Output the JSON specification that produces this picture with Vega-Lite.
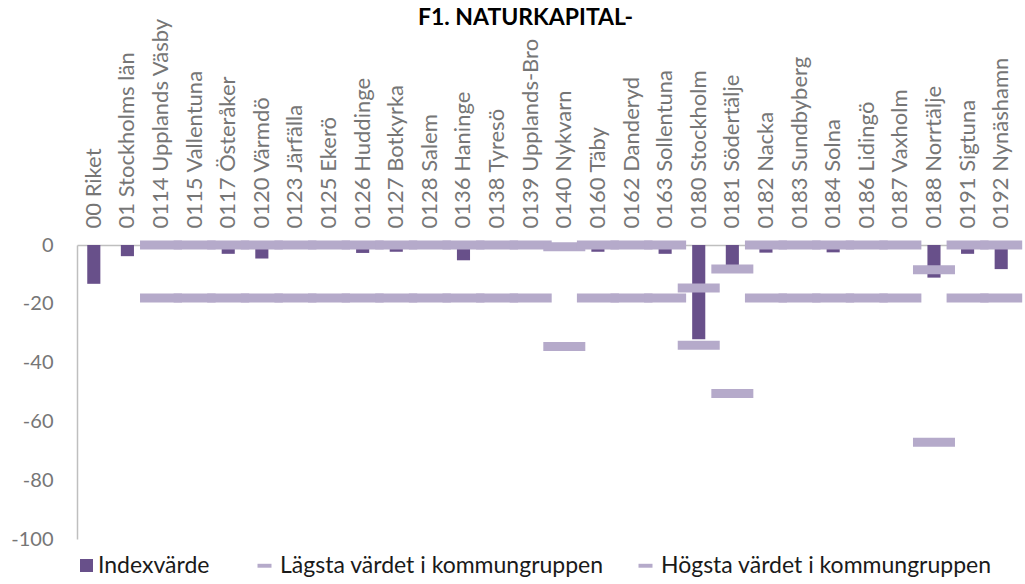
{
  "$schema": "https://vega.github.io/schema/vega-lite/v6.json",
  "width": 941,
  "height": 294,
  "autosize": {"type": "none"},
  "padding": {"left": 77, "top": 245, "right": 7, "bottom": 45},
  "background": "white",
  "title": {
    "text": "F1. NATURKAPITAL-",
    "font": "Lato",
    "fontSize": 23,
    "fontWeight": "bold",
    "color": "#000000",
    "anchor": "middle",
    "dx": -22,
    "dy": 16
  },
  "config": {"view": {"stroke": null}},
  "data": {
    "values": [
      {"kommun": "00 Riket", "serie": "Indexvärde", "value": -13.2},
      {"kommun": "01 Stockholms län", "serie": "Indexvärde", "value": -3.8},
      {"kommun": "0114 Upplands Väsby", "serie": "Indexvärde", "value": -1},
      {"kommun": "0115 Vallentuna", "serie": "Indexvärde", "value": -1},
      {"kommun": "0117 Österåker", "serie": "Indexvärde", "value": -3},
      {"kommun": "0120 Värmdö", "serie": "Indexvärde", "value": -4.6},
      {"kommun": "0123 Järfälla", "serie": "Indexvärde", "value": -1},
      {"kommun": "0125 Ekerö", "serie": "Indexvärde", "value": -1},
      {"kommun": "0126 Huddinge", "serie": "Indexvärde", "value": -2.7},
      {"kommun": "0127 Botkyrka", "serie": "Indexvärde", "value": -2.3},
      {"kommun": "0128 Salem", "serie": "Indexvärde", "value": -1},
      {"kommun": "0136 Haninge", "serie": "Indexvärde", "value": -5.2},
      {"kommun": "0138 Tyresö", "serie": "Indexvärde", "value": -1},
      {"kommun": "0139 Upplands-Bro", "serie": "Indexvärde", "value": -1},
      {"kommun": "0140 Nykvarn", "serie": "Indexvärde", "value": -1},
      {"kommun": "0160 Täby", "serie": "Indexvärde", "value": -2.3},
      {"kommun": "0162 Danderyd", "serie": "Indexvärde", "value": -1},
      {"kommun": "0163 Sollentuna", "serie": "Indexvärde", "value": -3},
      {"kommun": "0180 Stockholm", "serie": "Indexvärde", "value": -32.1},
      {"kommun": "0181 Södertälje", "serie": "Indexvärde", "value": -8},
      {"kommun": "0182 Nacka", "serie": "Indexvärde", "value": -2.6},
      {"kommun": "0183 Sundbyberg", "serie": "Indexvärde", "value": -1},
      {"kommun": "0184 Solna", "serie": "Indexvärde", "value": -2.5},
      {"kommun": "0186 Lidingö", "serie": "Indexvärde", "value": -1},
      {"kommun": "0187 Vaxholm", "serie": "Indexvärde", "value": -1},
      {"kommun": "0188 Norrtälje", "serie": "Indexvärde", "value": -11.1},
      {"kommun": "0191 Sigtuna", "serie": "Indexvärde", "value": -3},
      {"kommun": "0192 Nynäshamn", "serie": "Indexvärde", "value": -8.2},

      {"kommun": "0114 Upplands Väsby", "serie": "Lägsta värdet i kommungruppen", "value": -18},
      {"kommun": "0115 Vallentuna", "serie": "Lägsta värdet i kommungruppen", "value": -18},
      {"kommun": "0117 Österåker", "serie": "Lägsta värdet i kommungruppen", "value": -18},
      {"kommun": "0120 Värmdö", "serie": "Lägsta värdet i kommungruppen", "value": -18},
      {"kommun": "0123 Järfälla", "serie": "Lägsta värdet i kommungruppen", "value": -18},
      {"kommun": "0125 Ekerö", "serie": "Lägsta värdet i kommungruppen", "value": -18},
      {"kommun": "0126 Huddinge", "serie": "Lägsta värdet i kommungruppen", "value": -18},
      {"kommun": "0127 Botkyrka", "serie": "Lägsta värdet i kommungruppen", "value": -18},
      {"kommun": "0128 Salem", "serie": "Lägsta värdet i kommungruppen", "value": -18},
      {"kommun": "0136 Haninge", "serie": "Lägsta värdet i kommungruppen", "value": -18},
      {"kommun": "0138 Tyresö", "serie": "Lägsta värdet i kommungruppen", "value": -18},
      {"kommun": "0139 Upplands-Bro", "serie": "Lägsta värdet i kommungruppen", "value": -18},
      {"kommun": "0140 Nykvarn", "serie": "Lägsta värdet i kommungruppen", "value": -34.5},
      {"kommun": "0160 Täby", "serie": "Lägsta värdet i kommungruppen", "value": -18},
      {"kommun": "0162 Danderyd", "serie": "Lägsta värdet i kommungruppen", "value": -18},
      {"kommun": "0163 Sollentuna", "serie": "Lägsta värdet i kommungruppen", "value": -18},
      {"kommun": "0180 Stockholm", "serie": "Lägsta värdet i kommungruppen", "value": -34.1},
      {"kommun": "0181 Södertälje", "serie": "Lägsta värdet i kommungruppen", "value": -50.5},
      {"kommun": "0182 Nacka", "serie": "Lägsta värdet i kommungruppen", "value": -18},
      {"kommun": "0183 Sundbyberg", "serie": "Lägsta värdet i kommungruppen", "value": -18},
      {"kommun": "0184 Solna", "serie": "Lägsta värdet i kommungruppen", "value": -18},
      {"kommun": "0186 Lidingö", "serie": "Lägsta värdet i kommungruppen", "value": -18},
      {"kommun": "0187 Vaxholm", "serie": "Lägsta värdet i kommungruppen", "value": -18},
      {"kommun": "0188 Norrtälje", "serie": "Lägsta värdet i kommungruppen", "value": -67.1},
      {"kommun": "0191 Sigtuna", "serie": "Lägsta värdet i kommungruppen", "value": -18},
      {"kommun": "0192 Nynäshamn", "serie": "Lägsta värdet i kommungruppen", "value": -18},

      {"kommun": "0114 Upplands Väsby", "serie": "Högsta värdet i kommungruppen", "value": 0},
      {"kommun": "0115 Vallentuna", "serie": "Högsta värdet i kommungruppen", "value": 0},
      {"kommun": "0117 Österåker", "serie": "Högsta värdet i kommungruppen", "value": 0},
      {"kommun": "0120 Värmdö", "serie": "Högsta värdet i kommungruppen", "value": 0},
      {"kommun": "0123 Järfälla", "serie": "Högsta värdet i kommungruppen", "value": 0},
      {"kommun": "0125 Ekerö", "serie": "Högsta värdet i kommungruppen", "value": 0},
      {"kommun": "0126 Huddinge", "serie": "Högsta värdet i kommungruppen", "value": 0},
      {"kommun": "0127 Botkyrka", "serie": "Högsta värdet i kommungruppen", "value": 0},
      {"kommun": "0128 Salem", "serie": "Högsta värdet i kommungruppen", "value": 0},
      {"kommun": "0136 Haninge", "serie": "Högsta värdet i kommungruppen", "value": 0},
      {"kommun": "0138 Tyresö", "serie": "Högsta värdet i kommungruppen", "value": 0},
      {"kommun": "0139 Upplands-Bro", "serie": "Högsta värdet i kommungruppen", "value": 0},
      {"kommun": "0140 Nykvarn", "serie": "Högsta värdet i kommungruppen", "value": -0.6},
      {"kommun": "0160 Täby", "serie": "Högsta värdet i kommungruppen", "value": 0},
      {"kommun": "0162 Danderyd", "serie": "Högsta värdet i kommungruppen", "value": 0},
      {"kommun": "0163 Sollentuna", "serie": "Högsta värdet i kommungruppen", "value": 0},
      {"kommun": "0180 Stockholm", "serie": "Högsta värdet i kommungruppen", "value": -14.6},
      {"kommun": "0181 Södertälje", "serie": "Högsta värdet i kommungruppen", "value": -8.2},
      {"kommun": "0182 Nacka", "serie": "Högsta värdet i kommungruppen", "value": 0},
      {"kommun": "0183 Sundbyberg", "serie": "Högsta värdet i kommungruppen", "value": 0},
      {"kommun": "0184 Solna", "serie": "Högsta värdet i kommungruppen", "value": 0},
      {"kommun": "0186 Lidingö", "serie": "Högsta värdet i kommungruppen", "value": 0},
      {"kommun": "0187 Vaxholm", "serie": "Högsta värdet i kommungruppen", "value": 0},
      {"kommun": "0188 Norrtälje", "serie": "Högsta värdet i kommungruppen", "value": -8.4},
      {"kommun": "0191 Sigtuna", "serie": "Högsta värdet i kommungruppen", "value": 0},
      {"kommun": "0192 Nynäshamn", "serie": "Högsta värdet i kommungruppen", "value": 0}
    ]
  },
  "encoding": {
    "x": {
      "field": "kommun",
      "type": "nominal",
      "sort": null,
      "scale": {
        "domain": ["00 Riket", "01 Stockholms län", "0114 Upplands Väsby", "0115 Vallentuna", "0117 Österåker", "0120 Värmdö", "0123 Järfälla", "0125 Ekerö", "0126 Huddinge", "0127 Botkyrka", "0128 Salem", "0136 Haninge", "0138 Tyresö", "0139 Upplands-Bro", "0140 Nykvarn", "0160 Täby", "0162 Danderyd", "0163 Sollentuna", "0180 Stockholm", "0181 Södertälje", "0182 Nacka", "0183 Sundbyberg", "0184 Solna", "0186 Lidingö", "0187 Vaxholm", "0188 Norrtälje", "0191 Sigtuna", "0192 Nynäshamn"],
        "paddingInner": 0,
        "paddingOuter": 0
      },
      "axis": {
        "orient": "top",
        "title": null,
        "labelAngle": -90,
        "labelAlign": "left",
        "labelBaseline": "middle",
        "ticks": false,
        "tickSize": 0,
        "labelPadding": 17,
        "labelFont": "Lato",
        "labelFontSize": 22,
        "labelColor": "#767676",
        "labelLimit": 400,
        "domainColor": "#BFBFBF",
        "domainWidth": 1.5
      }
    },
    "y": {
      "field": "value",
      "type": "quantitative",
      "scale": {"domain": [-100, 0], "nice": false},
      "axis": {
        "title": null,
        "values": [0, -20, -40, -60, -80, -100],
        "labelExpr": "'' + datum.value",
        "grid": false,
        "ticks": false,
        "tickSize": 0,
        "labelPadding": 24,
        "labelFont": "Lato",
        "labelFontSize": 20,
        "labelColor": "#767676",
        "domainColor": "#BFBFBF",
        "domainWidth": 1.5
      }
    }
  },
  "layer": [
    {
      "transform": [{"filter": "datum.serie === 'Indexvärde'"}],
      "mark": {"type": "bar", "width": {"band": 0.39}},
      "encoding": {
        "color": {
          "field": "serie",
          "type": "nominal",
          "scale": {"domain": ["Indexvärde"], "range": ["#68508A"]},
          "legend": {
            "orient": "none",
            "legendX": -2,
            "legendY": 309,
            "title": null,
            "padding": 0,
            "symbolType": "square",
            "symbolSize": 169,
            "symbolStrokeWidth": 0,
            "labelOffset": 0,
            "labelFont": "Lato",
            "labelFontSize": 23,
            "labelColor": "#1A1A1A"
          }
        }
      }
    },
    {
      "transform": [{"filter": "datum.serie !== 'Indexvärde'"}],
      "mark": {"type": "tick", "size": 42, "thickness": 9, "opacity": 1},
      "encoding": {
        "color": {
          "field": "serie",
          "type": "nominal",
          "scale": {"domain": ["Lägsta värdet i kommungruppen", "Högsta värdet i kommungruppen"], "range": ["#B5AACA", "#B5AACA"]},
          "legend": {
            "orient": "none",
            "legendX": 176,
            "legendY": 309,
            "direction": "horizontal",
            "title": null,
            "padding": 0,
            "symbolType": "M-1,-0.28H1V0.28H-1Z",
            "symbolSize": 196,
            "symbolStrokeWidth": 0,
            "labelOffset": 4,
            "columnPadding": 30,
            "labelFont": "Lato",
            "labelFontSize": 23,
            "labelColor": "#1A1A1A",
            "labelLimit": 400
          }
        }
      }
    }
  ],
  "resolve": {"scale": {"color": "independent"}, "legend": {"color": "independent"}}
}
